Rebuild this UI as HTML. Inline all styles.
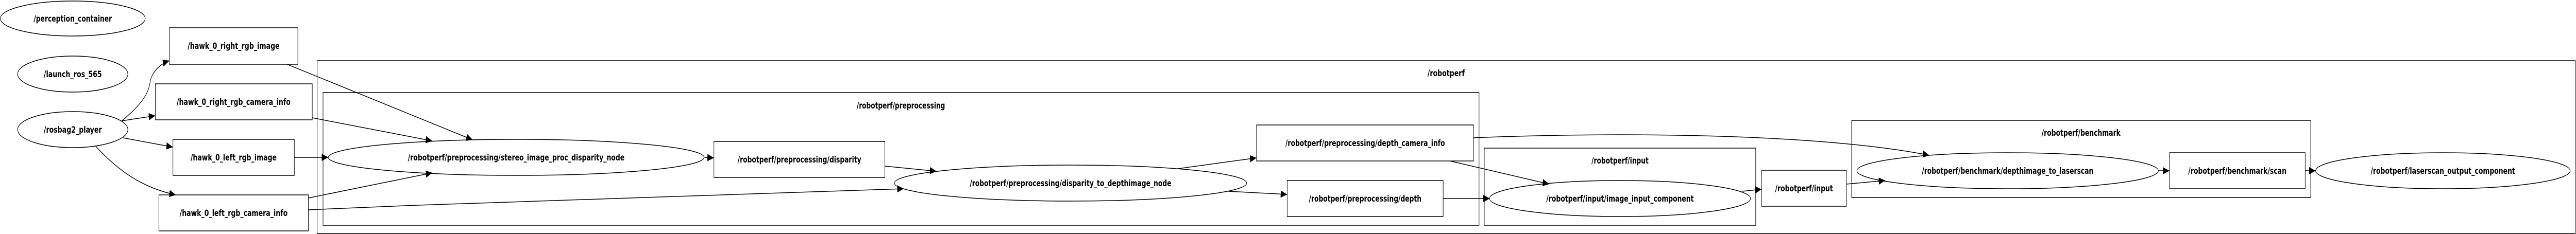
<!DOCTYPE html>
<html><head><meta charset="utf-8"><style>
html,body{margin:0;padding:0;background:#fff;width:100%;height:100%;overflow:hidden;}
svg{display:block;width:100vw;height:100vh;}
text{font-family:"DejaVu Sans","Liberation Sans",sans-serif;font-weight:bold;font-size:17px;fill:#000;}
</style></head><body>
<svg viewBox="0 0 7895 455" preserveAspectRatio="none" xmlns="http://www.w3.org/2000/svg">
<defs>
<marker id="a" markerUnits="userSpaceOnUse" markerWidth="22" markerHeight="16" refX="20" refY="7" orient="auto">
<path d="M0,0 L20,7 L0,14 z" fill="#000"/>
</marker>
</defs>
<g fill="none" stroke="#000" stroke-width="1.5">
<rect x="972" y="118" width="6921" height="336"/>
<rect x="990" y="180" width="3543" height="258"/>
<rect x="4549" y="288" width="832" height="150"/>
<rect x="5675" y="234" width="1407" height="150"/>
<ellipse cx="223" cy="36" rx="222" ry="34"/>
<ellipse cx="223" cy="144" rx="169" ry="35"/>
<ellipse cx="223" cy="252" rx="169" ry="35"/>
<rect x="519" y="54" width="394" height="71"/>
<rect x="476" y="163" width="481" height="70"/>
<rect x="530" y="271" width="372" height="70"/>
<rect x="487" y="379" width="458" height="70"/>
<ellipse cx="1582" cy="306" rx="576" ry="35"/>
<rect x="2188" y="275" width="524" height="70"/>
<ellipse cx="3281" cy="356" rx="540" ry="35"/>
<rect x="3851" y="243" width="665" height="70"/>
<rect x="3945" y="351" width="478" height="70"/>
<ellipse cx="4965" cy="386" rx="400" ry="35"/>
<rect x="5399" y="331" width="260" height="70"/>
<ellipse cx="6153" cy="332" rx="462" ry="35"/>
<rect x="6649" y="297" width="416" height="70"/>
<ellipse cx="7487" cy="332" rx="390" ry="35"/>
<g marker-end="url(#a)">
<path d="M373,235 C440,200 455,180 460,160 C465,140 490,125 519,118"/>
<path d="M373,235 L476,225"/>
<path d="M377,268 L530,286"/>
<path d="M293,284 C380,345 460,368 539,379"/>
<path d="M880,125 L1449,272"/>
<path d="M957,229 L1325,274"/>
<path d="M902,306 L1006,306"/>
<path d="M945,385 L1325,336"/>
<path d="M945,408 C1600,390 2300,372 2770,367"/>
<path d="M2159,306 L2188,307"/>
<path d="M2712,323 L2870,333"/>
<path d="M3610,328 L3851,307"/>
<path d="M3765,372 L3945,378"/>
<path d="M4444,313 L4748,358"/>
<path d="M4423,386 L4566,386"/>
<path d="M4516,268 C5000,255 5600,262 5913,302"/>
<path d="M5339,372 L5399,368"/>
<path d="M5659,358 L5778,351"/>
<path d="M6615,332 L6649,332"/>
<path d="M7065,332 L7097,332"/>
</g>
</g>
<g text-anchor="middle">
<text x="223" y="42" textLength="240" lengthAdjust="spacingAndGlyphs">/perception_container</text>
<text x="223" y="150" textLength="178" lengthAdjust="spacingAndGlyphs">/launch_ros_565</text>
<text x="223" y="258" textLength="178" lengthAdjust="spacingAndGlyphs">/rosbag2_player</text>
<text x="716" y="95" textLength="282" lengthAdjust="spacingAndGlyphs">/hawk_0_right_rgb_image</text>
<text x="716" y="204" textLength="349" lengthAdjust="spacingAndGlyphs">/hawk_0_right_rgb_camera_info</text>
<text x="716" y="312" textLength="264" lengthAdjust="spacingAndGlyphs">/hawk_0_left_rgb_image</text>
<text x="716" y="420" textLength="331" lengthAdjust="spacingAndGlyphs">/hawk_0_left_rgb_camera_info</text>
<text x="4432" y="148" textLength="114" lengthAdjust="spacingAndGlyphs">/robotperf</text>
<text x="2761" y="211" textLength="271" lengthAdjust="spacingAndGlyphs">/robotperf/preprocessing</text>
<text x="4965" y="318" textLength="175" lengthAdjust="spacingAndGlyphs">/robotperf/input</text>
<text x="6378" y="264" textLength="242" lengthAdjust="spacingAndGlyphs">/robotperf/benchmark</text>
<text x="1582" y="312" textLength="664" lengthAdjust="spacingAndGlyphs">/robotperf/preprocessing/stereo_image_proc_disparity_node</text>
<text x="2450" y="316" textLength="379" lengthAdjust="spacingAndGlyphs">/robotperf/preprocessing/disparity</text>
<text x="3281" y="362" textLength="618" lengthAdjust="spacingAndGlyphs">/robotperf/preprocessing/disparity_to_depthimage_node</text>
<text x="4184" y="284" textLength="489" lengthAdjust="spacingAndGlyphs">/robotperf/preprocessing/depth_camera_info</text>
<text x="4184" y="392" textLength="345" lengthAdjust="spacingAndGlyphs">/robotperf/preprocessing/depth</text>
<text x="4965" y="392" textLength="452" lengthAdjust="spacingAndGlyphs">/robotperf/input/image_input_component</text>
<text x="5529" y="372" textLength="177" lengthAdjust="spacingAndGlyphs">/robotperf/input</text>
<text x="6153" y="338" textLength="526" lengthAdjust="spacingAndGlyphs">/robotperf/benchmark/depthimage_to_laserscan</text>
<text x="6857" y="338" textLength="301" lengthAdjust="spacingAndGlyphs">/robotperf/benchmark/scan</text>
<text x="7487" y="338" textLength="443" lengthAdjust="spacingAndGlyphs">/robotperf/laserscan_output_component</text>
</g>
</svg>
</body></html>
